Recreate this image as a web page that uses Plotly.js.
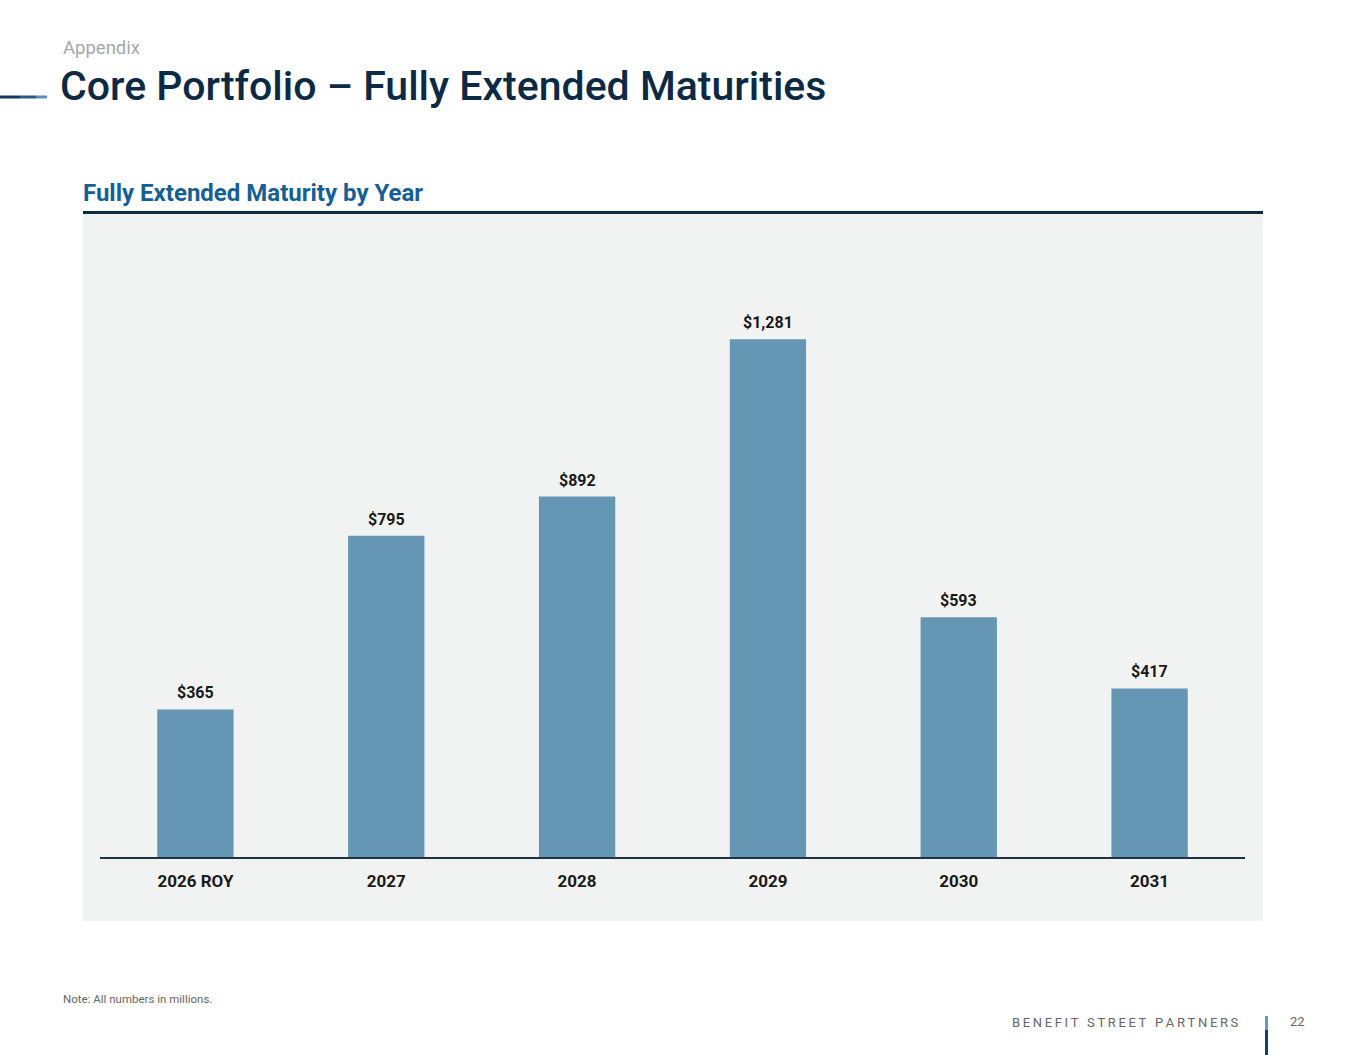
<!DOCTYPE html>
<html>
<head>
<meta charset="utf-8">
<script src="https://cdn.plot.ly/plotly-3.0.1.min.js"></script>
<style>
html,body{margin:0;padding:0;background:#fff;}
#chart{width:1365px;height:1055px;}
</style>
</head>
<body>
<div id="chart"></div>
<script>
// Data
const categories = ["2026 ROY", "2027", "2028", "2029", "2030", "2031"];
const maturities = [365, 795, 892, 1281, 593, 417];
const valueLabels = ["$365", "$795", "$892", "$1,281", "$593", "$417"];

// Page geometry (pixels) -> paper coords
const W = 1365, H = 1055;
const L = 100, R = 1245, T = 252, B = 857;
const px = x => (x - L) / (R - L);
const py = y => (B - y) / (B - T);

const trace = {
  type: "bar",
  x: categories,
  y: maturities,
  width: 0.4,
  marker: { color: "#6596b4" },
  hoverinfo: "skip"
};

const valueAnnotations = categories.map((c, i) => ({
  x: i, y: maturities[i], xref: "x", yref: "y",
  text: valueLabels[i], showarrow: false,
  yanchor: "bottom", yshift: 5,
  font: { family: "Roboto", size: 16, color: "#1a1a1a", weight: 700 }
}));

const textAnn = [
  { x: px(61), y: py(48), text: "Appendix", xanchor: "left", yanchor: "middle",
    font: { family: "Roboto", size: 18.5, color: "#a3a7ab" } },
  { x: px(58), y: py(86), text: "Core Portfolio – Fully Extended Maturities", xanchor: "left", yanchor: "middle",
    font: { family: "Roboto", size: 41, color: "#0c2a44", weight: 500 } },
  { x: px(81), y: py(193), text: "Fully Extended Maturity by Year", xanchor: "left", yanchor: "middle",
    font: { family: "Roboto", size: 24, color: "#155f95", weight: 700 } },
  { x: px(61), y: py(999), text: "Note: All numbers in millions.", xanchor: "left", yanchor: "middle",
    font: { family: "Roboto", size: 11.5, color: "#666" } },
  { x: px(1241), y: py(1022), text: "BENEFIT STREET PARTNERS".split("").join("\u2009"), xanchor: "right", yanchor: "middle",
    font: { family: "Roboto", size: 13, color: "#666" } },
  { x: px(1288), y: py(1021), text: "22", xanchor: "left", yanchor: "middle",
    font: { family: "Roboto", size: 13, color: "#666" } }
].map(a => Object.assign({ xref: "paper", yref: "paper", showarrow: false }, a));

const shapes = [
  { type: "rect", xref: "paper", yref: "paper", x0: px(83), x1: px(1263), y0: py(921), y1: py(214),
    fillcolor: "#f1f2f2", line: { width: 0 }, layer: "below" },
  { type: "line", xref: "paper", yref: "paper", x0: px(83), x1: px(1263), y0: py(212.5), y1: py(212.5),
    line: { color: "#0d2b40", width: 3 } },
  { type: "line", xref: "paper", yref: "paper", x0: px(0), x1: px(20), y0: py(97), y1: py(97),
    line: { color: "#163a5e", width: 3 } },
  { type: "line", xref: "paper", yref: "paper", x0: px(20), x1: px(36), y0: py(97), y1: py(97),
    line: { color: "#275a88", width: 3 } },
  { type: "line", xref: "paper", yref: "paper", x0: px(36), x1: px(47), y0: py(97), y1: py(97),
    line: { color: "#5b8db8", width: 3 } },
  { type: "line", xref: "paper", yref: "paper", x0: px(1266.5), x1: px(1266.5), y0: py(1016), y1: py(1030),
    line: { color: "#5f9ccc", width: 3 } },
  { type: "line", xref: "paper", yref: "paper", x0: px(1266.5), x1: px(1266.5), y0: py(1030), y1: py(1055),
    line: { color: "#163f6e", width: 3 } }
];

const layout = {
  width: W, height: H,
  margin: { l: L, r: W - R, t: T, b: H - B, pad: 0 },
  paper_bgcolor: "#ffffff",
  plot_bgcolor: "rgba(0,0,0,0)",
  showlegend: false,
  xaxis: {
    type: "category",
    range: [-0.5, categories.length - 0.5],
    autorange: false,
    showline: true, linecolor: "#1f3344", linewidth: 1.5,
    showgrid: false, zeroline: false,
    ticks: "", ticklabelstandoff: 8,
    tickfont: { family: "Roboto", size: 17, color: "#1a1a1a", weight: 700 },
    fixedrange: true
  },
  yaxis: {
    range: [0, 1497], autorange: false, visible: false, showgrid: false, zeroline: false, fixedrange: true
  },
  shapes: shapes,
  annotations: valueAnnotations.concat(textAnn)
};

Plotly.newPlot("chart", [trace], layout, { displayModeBar: false, staticPlot: true });
</script>
</body>
</html>
